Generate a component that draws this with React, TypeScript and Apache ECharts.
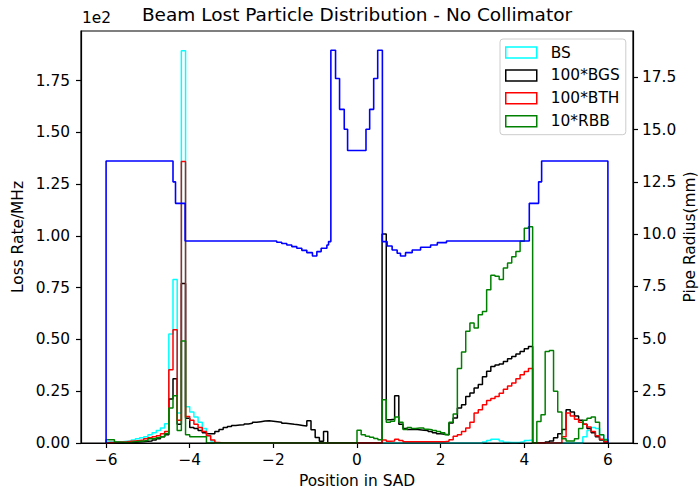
import React, { useEffect, useRef } from "react";
import * as echarts from "echarts";

// ---- histogram bins: 0.1 wide, starting at -6 (120 bins up to 6) ----
const BIN_START = -6;
const BIN_WIDTH = 0.1;

// BS
const bsValues = [
  0.005, 0.005, 0.005, 0.006, 0.008, 0.01, 0.015, 0.02, 0.025, 0.03,
  0.04, 0.05, 0.06, 0.072, 0.093, 0.526, 0.79, 0.145, 1.895, 0.175,
  0.15, 0.125, 0.1, 0.07, 0.035, 0.01, 0, 0, 0, 0,
  0, 0, 0, 0, 0, 0, 0, 0, 0, 0,
  0, 0, 0, 0, 0, 0, 0, 0, 0, 0,
  0, 0, 0, 0, 0, 0, 0, 0, 0, 0,
  0, 0, 0, 0, 0, 0, 0, 0, 0, 0,
  0, 0, 0, 0, 0, 0, 0, 0, 0, 0,
  0, 0, 0, 0, 0, 0, 0, 0, 0, 0,
  0.005, 0.012, 0.018, 0.018, 0.01, 0.004, 0.003, 0.003, 0.004, 0.006,
  0.012, 0.015, 0, 0, 0, 0, 0, 0, 0, 0,
  0, 0, 0, 0, 0.03, 0.06, 0.075, 0.07, 0.04, 0.018,
];

// 100*BGS
const bgsValues = [
  0, 0, 0, 0, 0.002, 0.003, 0.004, 0.005, 0.006, 0.008,
  0.01, 0.015, 0.02, 0.03, 0.04, 0.212, 0.31, 0.09, 0.77, 0.12,
  0.075, 0.07, 0.06, 0.05, 0.045, 0.045, 0.055, 0.065, 0.075, 0.08,
  0.085, 0.087, 0.088, 0.092, 0.095, 0.1, 0.103, 0.106, 0.107, 0.105,
  0.103, 0.1, 0.095, 0.093, 0.09, 0.088, 0.085, 0.082, 0.107, 0.064,
  0.027, 0.008, 0.056, 0, 0, 0, 0, 0, 0, 0,
  0, 0, 0, 0, 0, 0, 1.01, 0.112, 0.115, 0.228,
  0.09, 0.07, 0.065, 0.066, 0.064, 0.062, 0.06, 0.055, 0.05, 0.045,
  0.042, 0.04, 0.097, 0.121, 0.169, 0.185, 0.225, 0.241, 0.266, 0.282,
  0.32, 0.346, 0.37, 0.377, 0.381, 0.394, 0.407, 0.418, 0.43, 0.442,
  0.455, 0.466, 0, 0, 0, 0.005, 0.01, 0.025, 0.045, 0.065,
  0.16, 0.15, 0.13, 0.11, 0.09, 0.07, 0.05, 0.03, 0.015, 0.005,
];

// 100*BTH
const bthValues = [
  0.003, 0.003, 0.004, 0.005, 0.006, 0.008, 0.01, 0.012, 0.015, 0.02,
  0.025, 0.03, 0.035, 0.045, 0.056, 0.354, 0.547, 0.11, 1.36, 0.128,
  0.11, 0.09, 0.075, 0.055, 0.035, 0.015, 0.003, 0, 0, 0,
  0, 0, 0, 0, 0, 0, 0, 0, 0, 0,
  0, 0, 0, 0, 0, 0, 0, 0, 0, 0,
  0, 0, 0, 0, 0, 0, 0, 0, 0, 0,
  0, 0, 0, 0, 0, 0, 0.015, 0.008, 0.01, 0.018,
  0.012, 0.006, 0.006, 0.006, 0.006, 0.006, 0.006, 0.006, 0.006, 0.006,
  0.006, 0.008, 0.016, 0.032, 0.04, 0.056, 0.072, 0.1, 0.145, 0.16,
  0.185, 0.205, 0.215, 0.225, 0.24, 0.26, 0.275, 0.29, 0.31, 0.33,
  0.345, 0.36, 0, 0, 0, 0, 0, 0, 0, 0.03,
  0.145, 0.13, 0.115, 0.1, 0.09, 0.077, 0.056, 0.035, 0.018, 0.006,
];

// 10*RBB
const rbbValues = [
  0.016, 0.016, 0.005, 0.004, 0.003, 0.004, 0.006, 0.008, 0.01, 0.012,
  0.02, 0.02, 0.025, 0.03, 0.045, 0.169, 0.228, 0.06, 0.493, 0.04,
  0.03, 0.03, 0.03, 0.03, 0, 0, 0, 0, 0, 0,
  0, 0, 0, 0, 0, 0, 0, 0, 0, 0,
  0, 0, 0, 0, 0, 0, 0, 0, 0, 0,
  0, 0, 0, 0, 0, 0, 0, 0, 0, 0,
  0.062, 0.04, 0.032, 0.028, 0.022, 0.016, 0.209, 0.1, 0.105, 0.125,
  0.1, 0.065, 0.075, 0.07, 0.072, 0.072, 0.066, 0.064, 0.06, 0.056,
  0.05, 0.04, 0.1, 0.14, 0.36, 0.44, 0.54, 0.58, 0.555, 0.62,
  0.635, 0.74, 0.81, 0.805, 0.79, 0.845, 0.87, 0.9, 0.925, 0.975,
  1.037, 1.045, 0, 0.104, 0.137, 0.442, 0.447, 0.25, 0.15, 0.02,
  0.01, 0.01, 0.02, 0.07, 0.11, 0.12, 0.125, 0.1, 0.04, 0.015,
];

// Pipe radius (mm): each radius holds from its position to the next one
const pipeX = [
  -6, -6, -4.4, -4.34, -4.11, -1.92, -1.8, -1.68, -1.56, -1.44, -1.32, -1.2,
  -1.065, -0.96, -0.857, -0.72, -0.68, -0.625, -0.513, -0.417, -0.305, -0.225,
  0.215, 0.303, 0.399, 0.495, 0.607, 0.72, 0.84, 0.96, 1.04, 1.16, 1.32, 1.52,
  1.76, 1.92, 2.14, 4.12, 4.343, 4.415, 6.0,
];
const pipeR = [
  0, 13.5, 12.5, 11.47, 9.67, 9.61, 9.55, 9.48, 9.4, 9.32, 9.22, 9.11,
  8.95, 9.16, 9.32, 9.48, 9.64, 18.8, 17.45, 15.97, 15.02, 14.0,
  15.02, 15.97, 17.45, 18.8, 9.64, 9.43, 9.24, 9.08, 8.95, 9.11, 9.24, 9.37,
  9.48, 9.59, 9.67, 11.47, 12.5, 13.5, 0,
];

const xTicks = [-6, -4, -2, 0, 2, 4, 6];
const lossTicks = [0, 0.25, 0.5, 0.75, 1.0, 1.25, 1.5, 1.75];
const radiusTicks = [0, 2.5, 5, 7.5, 10, 12.5, 15, 17.5];

const seriesNames = ["BS", "100*BGS", "100*BTH", "10*RBB"];
const seriesColors = ["#00ffff", "#000000", "#ff0000", "#008000"];

const FONT = "DejaVu Sans";
const FS = 15.4;

function histLine(values: number[]) {
  const pts: number[][] = [[BIN_START, 0]];
  values.forEach((v, i) => {
    pts.push([Math.round((BIN_START + i * BIN_WIDTH) * 1000) / 1000, v]);
  });
  pts.push([Math.round((BIN_START + values.length * BIN_WIDTH) * 1000) / 1000, 0]);
  return pts;
}

const minus = (s: string) => s.replace("-", "\u2212");

export default function App() {
  const ref = useRef<HTMLDivElement>(null);
  useEffect(() => {
    if (!ref.current) return;
    const chart = echarts.init(ref.current, null, { renderer: "svg" });
    const gridL = 81, gridT = 31, gridR = 633, gridB = 443;
    const histData = [bsValues, bgsValues, bthValues, rbbValues];
    const option: any = {
      animation: false,
      backgroundColor: "#ffffff",
      textStyle: { fontFamily: FONT },
      grid: { left: gridL, top: gridT, right: 700 - gridR, bottom: 493 - gridB, containLabel: false },
      xAxis: {
        type: "value",
        min: -6.6,
        max: 6.6,
        axisLine: { show: true, onZero: false, lineStyle: { color: "#000", width: 1.2 } },
        axisTick: { show: true, length: 5, lineStyle: { color: "#000", width: 1.2 }, customValues: xTicks },
        axisLabel: {
          customValues: xTicks,
          formatter: (v: number) => minus(String(v)),
          margin: 9,
          color: "#000",
          fontSize: FS,
          fontFamily: FONT,
        },
        splitLine: { show: false },
      },
      yAxis: [
        {
          type: "value",
          min: 0,
          max: 1.99,
          position: "left",
          axisLine: { show: true, onZero: false, lineStyle: { color: "#000", width: 1.2 } },
          axisTick: { show: true, length: 5, lineStyle: { color: "#000", width: 1.2 }, customValues: lossTicks },
          axisLabel: {
            customValues: lossTicks,
            formatter: (v: number) => v.toFixed(2),
            margin: 11,
            color: "#000",
            fontSize: FS,
            fontFamily: FONT,
          },
          splitLine: { show: false },
        },
        {
          type: "value",
          min: 0,
          max: 19.72,
          position: "right",
          axisLine: { show: true, onZero: false, lineStyle: { color: "#000", width: 1.2 } },
          axisTick: { show: true, length: 5, lineStyle: { color: "#000", width: 1.2 }, customValues: radiusTicks },
          axisLabel: {
            customValues: radiusTicks,
            formatter: (v: number) => v.toFixed(1),
            margin: 9,
            color: "#000",
            fontSize: FS,
            fontFamily: FONT,
          },
          splitLine: { show: false },
        },
      ],
      legend: {
        left: 500,
        top: 39,
        orient: "vertical",
        selectedMode: false,
        padding: [6, 6, 6, 5],
        itemGap: 7.9,
        itemWidth: 31,
        itemHeight: 11,
        backgroundColor: "rgba(255,255,255,0.8)",
        borderColor: "#cccccc",
        borderWidth: 1,
        borderRadius: 3,
        textStyle: { color: "#000", fontSize: FS, fontFamily: FONT, padding: [0, 0, 0, 9] },
        data: seriesNames.map((n, i) => ({
          name: n,
          icon: "rect",
          itemStyle: { color: "rgba(0,0,0,0)", borderColor: seriesColors[i], borderWidth: 1.5 },
        })),
      },
      series: [
        ...histData.map((vals, i) => ({
          name: seriesNames[i],
          type: "line",
          step: "end",
          yAxisIndex: 0,
          data: histLine(vals),
          symbol: "none",
          showSymbol: false,
          color: seriesColors[i],
          lineStyle: { color: seriesColors[i], width: 1.5 },
        })),
        {
          name: "Pipe",
          type: "line",
          step: "end",
          yAxisIndex: 1,
          data: pipeX.map((x, i) => [x, pipeR[i]]),
          symbol: "none",
          showSymbol: false,
          color: "#0000ff",
          lineStyle: { color: "#0000ff", width: 1.6 },
        },
      ],
      graphic: [
        {
          type: "rect",
          silent: true,
          z: 100,
          shape: { x: gridL, y: gridT, width: gridR - gridL, height: gridB - gridT },
          style: { fill: "none", stroke: "#000", lineWidth: 1.2 },
        },
        {
          type: "text",
          x: 357,
          y: 14.5,
          z: 100,
          style: {
            text: "Beam Lost Particle Distribution - No Collimator",
            fill: "#000",
            fontSize: 18.5,
            fontFamily: FONT,
            textAlign: "center",
            align: "center",
            textVerticalAlign: "middle",
            verticalAlign: "middle",
          },
        },
        {
          type: "text",
          x: 82,
          y: 18,
          z: 100,
          style: {
            text: "1e2",
            fill: "#000",
            fontSize: FS,
            fontFamily: FONT,
            textAlign: "left",
            align: "left",
            textVerticalAlign: "middle",
            verticalAlign: "middle",
          },
        },
        {
          type: "text",
          x: 357,
          y: 481,
          z: 100,
          style: {
            text: "Position in SAD",
            fill: "#000",
            fontSize: FS,
            fontFamily: FONT,
            textAlign: "center",
            align: "center",
            textVerticalAlign: "middle",
            verticalAlign: "middle",
          },
        },
        {
          type: "text",
          x: 18,
          y: 237,
          rotation: Math.PI / 2,
          z: 100,
          style: {
            text: "Loss Rate/MHz",
            fill: "#000",
            fontSize: FS,
            fontFamily: FONT,
            textAlign: "center",
            align: "center",
            textVerticalAlign: "middle",
            verticalAlign: "middle",
          },
        },
        {
          type: "text",
          x: 690,
          y: 237,
          rotation: Math.PI / 2,
          z: 100,
          style: {
            text: "Pipe Radius(mm)",
            fill: "#000",
            fontSize: FS,
            fontFamily: FONT,
            textAlign: "center",
            align: "center",
            textVerticalAlign: "middle",
            verticalAlign: "middle",
          },
        },
      ],
    };
    chart.setOption(option);
    return () => chart.dispose();
  }, []);
  return (
    <div
      ref={ref}
      style={{ position: "fixed", left: 0, top: 0, width: 700, height: 493, background: "#fff" }}
    />
  );
}
